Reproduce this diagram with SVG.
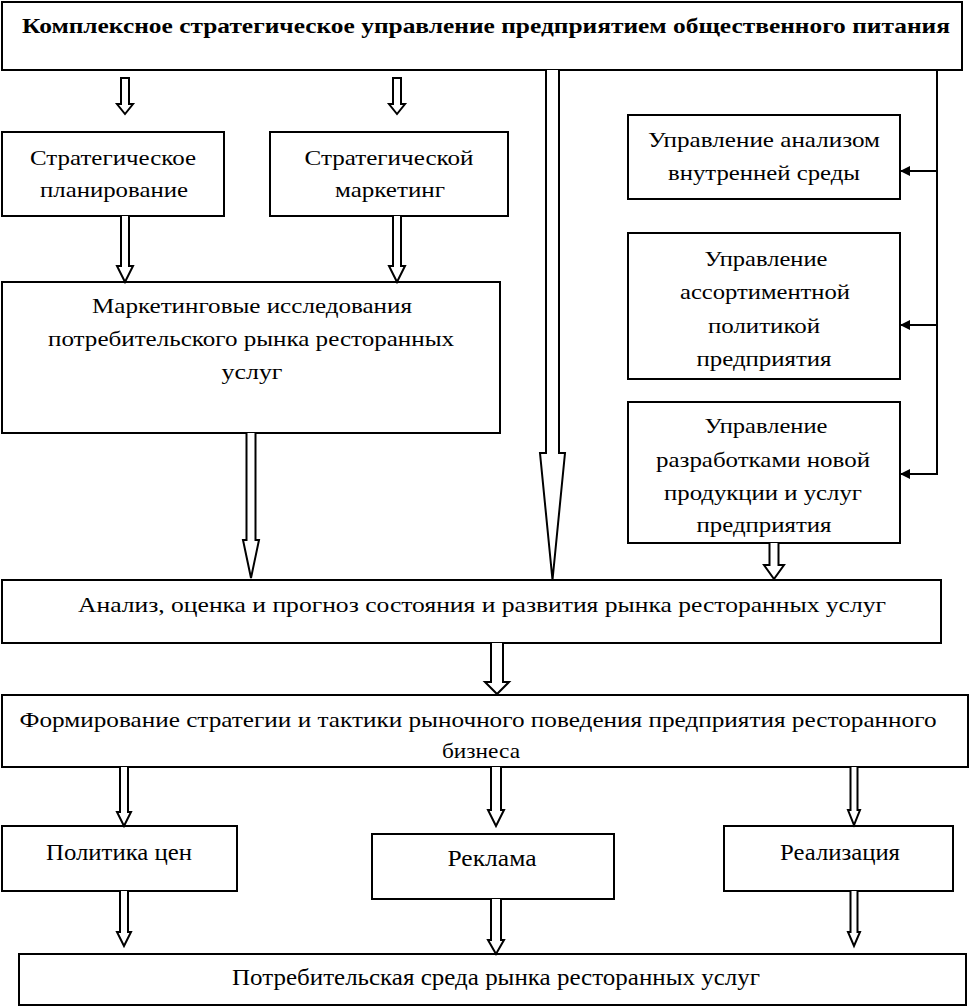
<svg xmlns="http://www.w3.org/2000/svg" width="972" height="1007" viewBox="0 0 972 1007">
<style>
.box{fill:#fff;stroke:#000;stroke-width:2}
.t{font-family:"Liberation Serif","Times New Roman",serif;font-size:21px;fill:#000;text-anchor:middle}
.tc{font-family:"Liberation Serif","Times New Roman",serif;font-size:23px;fill:#000;text-anchor:middle}
.tb{font-family:"Liberation Serif","Times New Roman",serif;font-size:22px;font-weight:bold;fill:#000;text-anchor:middle}
.ha{fill:#fff;stroke:#000;stroke-width:2;stroke-linejoin:miter}
.ln{fill:none;stroke:#000;stroke-width:2}
</style>
<defs>
<marker id="ah" markerWidth="10" markerHeight="10" refX="9" refY="5" orient="auto" markerUnits="userSpaceOnUse">
<path d="M0,0 L10,5 L0,10 z" fill="#000"/>
</marker>
</defs>
<rect width="972" height="1007" fill="#fff"/>
<g id="n-title"><rect class="box" x="2" y="2" width="960" height="68"/><text class="tb" x="486" y="33" textLength="928" lengthAdjust="spacingAndGlyphs">Комплексное стратегическое управление предприятием общественного питания</text></g>
<g id="n-plan"><rect class="box" x="2" y="132" width="222" height="84"/><text class="t" x="113" y="165" textLength="166" lengthAdjust="spacingAndGlyphs">Стратегическое</text><text class="t" x="114" y="197" textLength="148" lengthAdjust="spacingAndGlyphs">планирование</text></g>
<g id="n-mark"><rect class="box" x="270" y="132" width="238" height="84"/><text class="t" x="389" y="165" textLength="169" lengthAdjust="spacingAndGlyphs">Стратегической</text><text class="t" x="390" y="197" textLength="110" lengthAdjust="spacingAndGlyphs">маркетинг</text></g>
<g id="n-research"><rect class="box" x="2" y="282" width="498" height="151"/><text class="t" x="252" y="313" textLength="320" lengthAdjust="spacingAndGlyphs">Маркетинговые исследования</text><text class="t" x="251" y="346" textLength="406" lengthAdjust="spacingAndGlyphs">потребительского рынка ресторанных</text><text class="t" x="252" y="379" textLength="61" lengthAdjust="spacingAndGlyphs">услуг</text></g>
<g id="n-internal"><rect class="box" x="628" y="115" width="272" height="84"/><text class="t" x="764" y="147" textLength="232" lengthAdjust="spacingAndGlyphs">Управление анализом</text><text class="t" x="764" y="180" textLength="192" lengthAdjust="spacingAndGlyphs">внутренней среды</text></g>
<g id="n-assort"><rect class="box" x="628" y="233" width="272" height="146"/><text class="t" x="766" y="266" textLength="123" lengthAdjust="spacingAndGlyphs">Управление</text><text class="t" x="765" y="299" textLength="170" lengthAdjust="spacingAndGlyphs">ассортиментной</text><text class="t" x="764" y="333" textLength="112" lengthAdjust="spacingAndGlyphs">политикой</text><text class="t" x="764" y="366" textLength="135" lengthAdjust="spacingAndGlyphs">предприятия</text></g>
<g id="n-newprod"><rect class="box" x="628" y="402" width="272" height="141"/><text class="t" x="766" y="433" textLength="123" lengthAdjust="spacingAndGlyphs">Управление</text><text class="t" x="763" y="467" textLength="214" lengthAdjust="spacingAndGlyphs">разработками новой</text><text class="t" x="763" y="500" textLength="198" lengthAdjust="spacingAndGlyphs">продукции и услуг</text><text class="t" x="764" y="532" textLength="135" lengthAdjust="spacingAndGlyphs">предприятия</text></g>
<g id="n-analysis"><rect class="box" x="2" y="580" width="939" height="63"/><text class="t" x="482" y="612" textLength="808" lengthAdjust="spacingAndGlyphs">Анализ, оценка и прогноз состояния и развития рынка ресторанных услуг</text></g>
<g id="n-strategy"><rect class="box" x="2" y="695" width="966" height="72"/><text class="t" x="478" y="727" textLength="917" lengthAdjust="spacingAndGlyphs">Формирование стратегии и тактики рыночного поведения предприятия ресторанного</text><text class="t" x="481" y="758" textLength="78" lengthAdjust="spacingAndGlyphs">бизнеса</text></g>
<g id="n-price"><rect class="box" x="2" y="826" width="235" height="65"/><text class="tc" x="119" y="860" textLength="146" lengthAdjust="spacingAndGlyphs">Политика цен</text></g>
<g id="n-ads"><rect class="box" x="372" y="834" width="242" height="65"/><text class="tc" x="492" y="866" textLength="89" lengthAdjust="spacingAndGlyphs">Реклама</text></g>
<g id="n-sales"><rect class="box" x="724" y="826" width="229" height="65"/><text class="tc" x="840" y="860" textLength="120" lengthAdjust="spacingAndGlyphs">Реализация</text></g>
<g id="n-consumer"><rect class="box" x="19" y="954" width="947" height="51"/><text class="tc" x="496" y="985" textLength="528" lengthAdjust="spacingAndGlyphs">Потребительская среда рынка ресторанных услуг</text></g>
<g id="connectors">
<path class="ha" d="M121,78 V104 H117 L125,114 L133,104 H129 V78 Z"/>
<path class="ha" d="M393,78 V104 H389 L397,114 L405,104 H401 V78 Z"/>
<path class="ha" d="M121,216 V266 H117 L125,282 L133,266 H129 V216"/>
<path class="ha" d="M393,216 V266 H389 L397,282 L405,266 H401 V216"/>
<path class="ha" d="M246.5,433 V540 H243 L251,578 L259,540 H255.5 V433"/>
<path class="ha" d="M546,70 V453 H540 L552.5,580 L565,453 H559 V70"/>
<path class="ha" d="M769.5,543 V565 H764 L774,579 L784,565 H778.5 V543"/>
<path class="ha" d="M491,643 V682 H485 L497,694 L509,682 H503 V643"/>
<path class="ha" d="M120,767 V812 H117 L124,826 L131,812 H128 V767"/>
<path class="ha" d="M491,767 V810 H488 L496,826 L504,810 H501 V767"/>
<path class="ha" d="M850.5,767 V810 H848 L854,825 L860,810 H857.5 V767"/>
<path class="ha" d="M120,891 V932 H117 L124,946 L131,932 H128 V891"/>
<path class="ha" d="M491,899 V940 H488 L496,954 L504,940 H501 V899"/>
<path class="ha" d="M850.5,891 V932 H848 L854,946 L860,932 H857.5 V891"/>
<path class="ln" d="M937,70 V474"/>
<path class="ln" d="M937,171 H901" marker-end="url(#ah)"/>
<path class="ln" d="M937,325 H901" marker-end="url(#ah)"/>
<path class="ln" d="M938,474 H901" marker-end="url(#ah)"/>
</g>
</svg>
